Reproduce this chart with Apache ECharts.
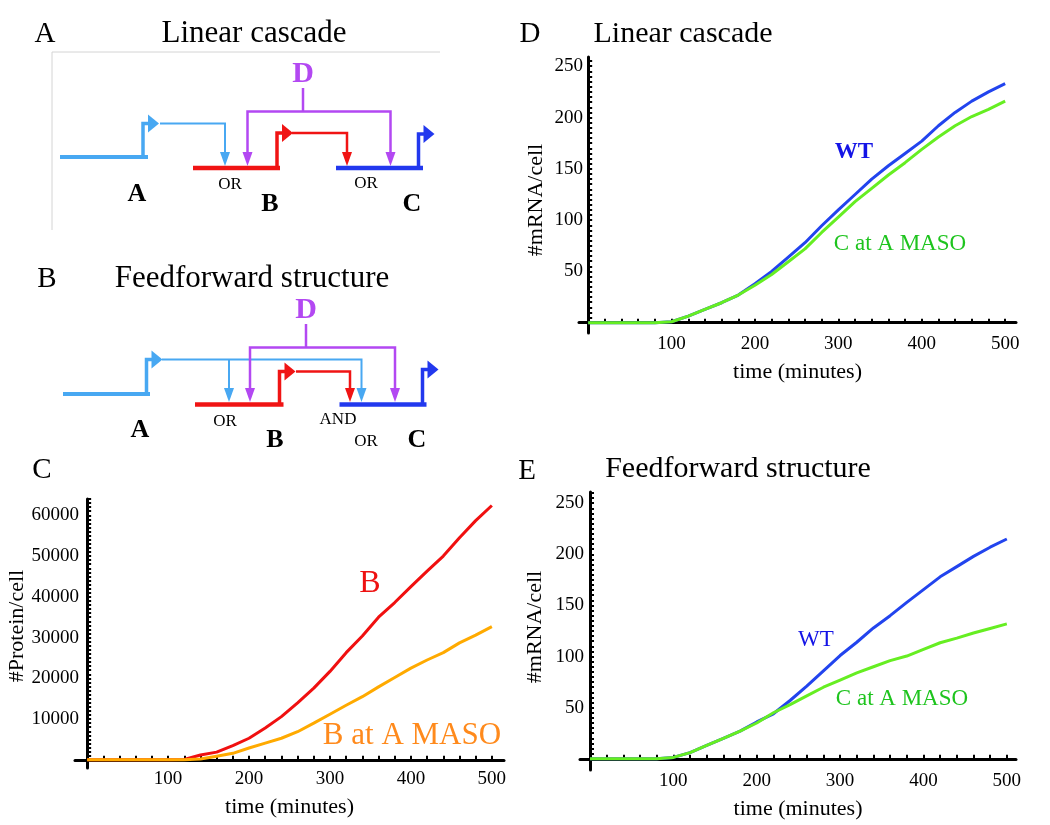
<!DOCTYPE html>
<html>
<head>
<meta charset="utf-8">
<title>Linear cascade vs feedforward</title>
<script src="https://cdn.jsdelivr.net/npm/echarts@6/dist/echarts.min.js"></script>
<style>
  html, body { margin: 0; padding: 0; background: #fff; }
  #main { width: 1050px; height: 825px; }
</style>
</head>
<body>
<div id="main"></div>
<script>
// sample times (minutes), shared by every curve
var time = [0, 20, 40, 60, 80, 100, 120, 140, 160, 180, 200, 220, 240, 260, 280, 300, 320, 340, 360, 380, 400, 420, 440, 460, 480, 500];

// panel C: protein B per cell
var proteinB     = [0, 0, 0, 0, 0, 0, 100, 1200, 1900, 3500, 5300, 7800, 10600, 14000, 17600, 21700, 26300, 30400, 35000, 38600, 42500, 46300, 50000, 54500, 58700, 62400];
var proteinBMaso = [0, 0, 0, 0, 0, 0, 0, 200, 900, 1600, 2900, 4100, 5300, 6900, 9000, 11200, 13400, 15500, 17900, 20200, 22500, 24500, 26300, 28700, 30600, 32700];

// panel D: linear cascade, mRNA C per cell
var linearWT   = [0, 0, 0, 0, 0, 1, 6.5, 13, 19.5, 27, 38, 50, 64, 78, 94.5, 110, 125, 140, 153, 165, 177, 192, 205, 216, 225, 233];
var linearMaso = [0, 0, 0, 0, 0, 1, 6.5, 13, 19.5, 27, 36.5, 47, 59.5, 72, 88, 103, 118, 131, 144, 156, 169, 181, 192, 201, 208, 216];

// panel E: feedforward, mRNA C per cell
var feedWT   = [0, 0, 0, 0, 0, 1.3, 6, 13, 20, 27, 36, 44, 57, 71, 86, 101, 114, 128, 140, 153, 165.5, 178, 188, 198, 207, 215];
var feedMaso = [0, 0, 0, 0, 0, 1.3, 6, 13, 20, 27, 35, 45, 53, 61.5, 70, 77, 84, 90, 96, 100.5, 107, 113.5, 118, 123, 127.5, 132];

// tick labels
var timeLabels = [100, 200, 300, 400, 500];
var proteinLabels = [10000, 20000, 30000, 40000, 50000, 60000];
var mrnaLabels = [50, 100, 150, 200, 250];

var FONT = '"Liberation Serif", "DejaVu Serif", serif';
var LBLUE = '#48a8f2', RED = '#f01414', BLUE = '#2238ee', PURPLE = '#b348f2';

function steps(from, to, by) {
  var out = [];
  for (var v = from; v <= to; v += by) out.push(v);
  return out;
}
function pairs(ys) {
  return time.map(function (t, i) { return [t, ys[i]]; });
}
function plain(v) { return String(v); }

function xAxisFor(grid, min, max) {
  return {
    type: 'value', gridIndex: grid, min: min, max: max,
    axisLine: { onZero: true, lineStyle: { color: '#000', width: 3 } },
    axisTick: { show: true, inside: true, length: 4, customValues: steps(20, 500, 20), lineStyle: { color: '#000', width: 2 } },
    axisLabel: { customValues: timeLabels, formatter: plain, margin: 2, color: '#000', fontFamily: FONT, fontSize: 19 },
    splitLine: { show: false },
    name: 'time (minutes)', nameLocation: 'middle', nameGap: 28,
    nameTextStyle: { color: '#000', fontFamily: FONT, fontSize: 22 }
  };
}
function yAxisFor(grid, min, max, tickStep, labels) {
  return {
    type: 'value', gridIndex: grid, min: min, max: max,
    axisLine: { onZero: true, lineStyle: { color: '#000', width: 3 } },
    axisTick: { show: true, inside: true, length: 4, customValues: steps(tickStep, max, tickStep), lineStyle: { color: '#000', width: 2 } },
    axisLabel: { customValues: labels, formatter: plain, margin: -4, color: '#000', fontFamily: FONT, fontSize: 19 },
    splitLine: { show: false }
  };
}
function curve(x, y, data, color) {
  return {
    type: 'line', xAxisIndex: x, yAxisIndex: y, data: data,
    showSymbol: false, symbol: 'none',
    lineStyle: { color: color, width: 3 }, itemStyle: { color: color }
  };
}

// --- diagram helpers (schematics in panels A and B) ---
function seg(points, color, width) {
  return { type: 'polyline', shape: { points: points }, style: { stroke: color, lineWidth: width, fill: null } };
}
function tri(points, color) {
  return { type: 'polygon', shape: { points: points }, style: { fill: color } };
}
function txt(x, y, text, size, color, weight, rot) {
  return {
    type: 'text', x: x, y: y, rotation: rot || 0,
    style: { text: text, fill: color, fontFamily: FONT, fontSize: size, fontWeight: weight || 'normal', align: 'center', verticalAlign: 'middle' }
  };
}
function downArrow(x, tipY, color) {
  return tri([[x - 5, tipY - 14], [x + 5, tipY - 14], [x, tipY]], color);
}
function promoter(x, barY, topY, color) {
  // bent arrow rising from the gene bar
  return [
    seg([[x, barY], [x, topY], [x + 6, topY]], color, 3.5),
    tri([[x + 5, topY - 9], [x + 5, topY + 9], [x + 16, topY]], color)
  ];
}

var graphics = [];
// frame lines of panel A
graphics.push(seg([[52, 230], [52, 52], [440, 52]], '#d4d4d4', 1));

// panel A: linear cascade
graphics.push(seg([[60, 157], [148, 157]], LBLUE, 4));
graphics = graphics.concat(promoter(143, 157, 123.5, LBLUE));
graphics.push(seg([[160, 123.5], [225, 123.5], [225, 153]], LBLUE, 2));
graphics.push(downArrow(225, 166, LBLUE));
graphics.push(seg([[193, 168], [280, 168]], RED, 4.5));
graphics = graphics.concat(promoter(277, 168, 133, RED));
graphics.push(seg([[292, 133], [347, 133], [347, 153]], RED, 2.5));
graphics.push(downArrow(347, 166, RED));
graphics.push(seg([[336, 168], [423, 168]], BLUE, 4.5));
graphics = graphics.concat(promoter(418.5, 168, 134, BLUE));
graphics.push(seg([[303, 88], [303, 111.5]], PURPLE, 2.5));
graphics.push(seg([[247.5, 153], [247.5, 111.5], [390.5, 111.5], [390.5, 153]], PURPLE, 2.5));
graphics.push(downArrow(247.5, 166, PURPLE));
graphics.push(downArrow(390.5, 166, PURPLE));
graphics.push(txt(303, 74, 'D', 30, PURPLE, 'bold'));
graphics.push(txt(230, 185, 'OR', 17, '#000'));
graphics.push(txt(366, 183.5, 'OR', 17, '#000'));
graphics.push(txt(137, 194, 'A', 26, '#000', 'bold'));
graphics.push(txt(270, 204, 'B', 26, '#000', 'bold'));
graphics.push(txt(412, 204, 'C', 26, '#000', 'bold'));

// panel B: feedforward structure
graphics.push(seg([[63, 394], [150, 394]], LBLUE, 4));
graphics = graphics.concat(promoter(146.5, 394, 359.5, LBLUE));
graphics.push(seg([[162, 359.5], [361.5, 359.5], [361.5, 389]], LBLUE, 2));
graphics.push(seg([[229, 359.5], [229, 389]], LBLUE, 2));
graphics.push(downArrow(229, 402, LBLUE));
graphics.push(downArrow(361.5, 402, LBLUE));
graphics.push(seg([[195, 404.5], [283.5, 404.5]], RED, 4.5));
graphics = graphics.concat(promoter(279.5, 404.5, 371.5, RED));
graphics.push(seg([[296, 371.5], [350, 371.5], [350, 389]], RED, 2.5));
graphics.push(downArrow(350, 402, RED));
graphics.push(seg([[339.5, 404.5], [426.5, 404.5]], BLUE, 4.5));
graphics = graphics.concat(promoter(422.5, 404.5, 369.5, BLUE));
graphics.push(seg([[306, 324], [306, 347.5]], PURPLE, 2.5));
graphics.push(seg([[250, 389], [250, 347.5], [395, 347.5], [395, 389]], PURPLE, 2.5));
graphics.push(downArrow(250, 402, PURPLE));
graphics.push(downArrow(395, 402, PURPLE));
graphics.push(txt(306, 310, 'D', 30, PURPLE, 'bold'));
graphics.push(txt(225, 422, 'OR', 17, '#000'));
graphics.push(txt(338, 420, 'AND', 17, '#000'));
graphics.push(txt(366, 442, 'OR', 17, '#000'));
graphics.push(txt(140, 430, 'A', 26, '#000', 'bold'));
graphics.push(txt(275, 440, 'B', 26, '#000', 'bold'));
graphics.push(txt(417, 440, 'C', 26, '#000', 'bold'));

// panel letters and titles
graphics.push(txt(45, 34, 'A', 29, '#000'));
graphics.push(txt(254, 34, 'Linear cascade', 31, '#000'));
graphics.push(txt(47, 279, 'B', 29, '#000'));
graphics.push(txt(252, 279, 'Feedforward structure', 31, '#000'));
graphics.push(txt(42, 470, 'C', 29, '#000'));
graphics.push(txt(530, 34, 'D', 29, '#000'));
graphics.push(txt(683, 34, 'Linear cascade', 30, '#000'));
graphics.push(txt(527, 471, 'E', 29, '#000'));
graphics.push(txt(738, 469, 'Feedforward structure', 30, '#000'));

// y axis names
graphics.push(txt(17, 626, '#Protein/cell', 22, '#000', 'normal', Math.PI / 2));
graphics.push(txt(536, 200, '#mRNA/cell', 22, '#000', 'normal', Math.PI / 2));
graphics.push(txt(535, 627, '#mRNA/cell', 22, '#000', 'normal', Math.PI / 2));

// curve labels
graphics.push(txt(370, 584, 'B', 32, '#ee1111'));
graphics.push(txt(412, 736, 'B at A MASO', 31, '#ff8a1c'));
graphics.push(txt(854, 152, 'WT', 23, '#1414e6', 'bold'));
graphics.push(txt(900, 244, 'C at A MASO', 23, '#1ec41e'));
graphics.push(txt(816, 640, 'WT', 23, '#1414e6'));
graphics.push(txt(902, 699, 'C at A MASO', 23, '#1ec41e'));

var chart = echarts.init(document.getElementById('main'));
chart.setOption({
  animation: false,
  backgroundColor: '#fff',
  grid: [
    { left: 75, top: 499, width: 429, height: 269 },
    { left: 579, top: 57, width: 437, height: 276 },
    { left: 580, top: 492, width: 436, height: 278 }
  ],
  xAxis: [
    xAxisFor(0, -15, 515),
    xAxisFor(1, -11, 513),
    xAxisFor(2, -12, 511)
  ],
  yAxis: [
    yAxisFor(0, -2000, 64000, 1000, proteinLabels),
    yAxisFor(1, -10, 259, 5, mrnaLabels),
    yAxisFor(2, -11, 261, 5, mrnaLabels)
  ],
  series: [
    curve(0, 0, pairs(proteinB), '#f01010'),
    curve(0, 0, pairs(proteinBMaso), '#ffaa00'),
    curve(1, 1, pairs(linearWT), '#2244ee'),
    curve(1, 1, pairs(linearMaso), '#66ee22'),
    curve(2, 2, pairs(feedWT), '#2244ee'),
    curve(2, 2, pairs(feedMaso), '#66ee22')
  ],
  graphic: graphics
});
</script>
</body>
</html>
